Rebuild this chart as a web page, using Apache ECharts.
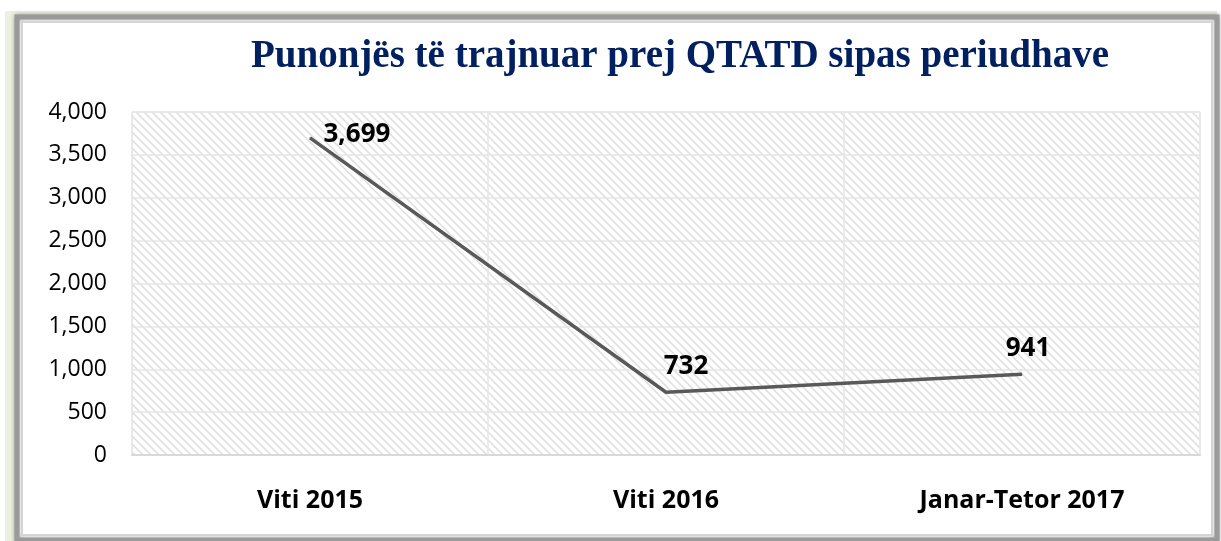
<!DOCTYPE html>
<html>
<head>
<meta charset="utf-8">
<script src="https://cdn.jsdelivr.net/npm/echarts@6/dist/echarts.min.js"></script>
<style>
  html, body { margin: 0; padding: 0; background: #fff; }
  #main { width: 1221px; height: 541px; }
</style>
</head>
<body>
<div id="main"></div>
<script>
var categories = ['Viti 2015', 'Viti 2016', 'Janar-Tetor 2017'];
var trained = [3699, 732, 941];
var yTicks = [0, 500, 1000, 1500, 2000, 2500, 3000, 3500, 4000];

// diagonal hatch for the plot background
var hatch = document.createElement('canvas');
hatch.width = 8;
hatch.height = 8;
var hc = hatch.getContext('2d');
hc.fillStyle = '#ffffff';
hc.fillRect(0, 0, 8, 8);
hc.strokeStyle = '#dedede';
hc.lineWidth = 1.5;
hc.beginPath();
hc.moveTo(-2, -2); hc.lineTo(10, 10);
hc.moveTo(-2, 6); hc.lineTo(2, 10);
hc.moveTo(6, -2); hc.lineTo(10, 2);
hc.stroke();

var myChart = echarts.init(document.getElementById('main'));

// label placement per point (left one sits to the right of the line)
var labelSpots = [
    { position: 'right', offset: [8, -3] },
    { position: 'top', offset: [20, -7] },
    { position: 'top', offset: [6, -7] }
];

var option = {
    backgroundColor: '#ffffff',
    animation: false,
    graphic: [
        { type: 'rect', shape: { x: 5, y: 11, width: 1212, height: 530 }, style: { fill: '#ecf1df' }, z: -10 },
        { type: 'rect', shape: { x: 17, y: 17, width: 1200, height: 523 }, style: { fill: '#ffffff', stroke: '#9a9a9a', lineWidth: 5, shadowBlur: 4, shadowColor: 'rgba(0,0,0,0.35)' }, z: -9 },
        { type: 'rect', shape: { x: 22, y: 22, width: 1190, height: 513 }, style: { fill: '#ffffff', stroke: '#d4d4d4', lineWidth: 2 }, z: -8 }
    ],
    title: {
        text: 'Punonjës të trajnuar prej QTATD sipas periudhave',
        left: 675,
        top: 32,
        textAlign: 'center',
        textStyle: {
            fontFamily: 'Liberation Serif',
            fontWeight: 'bold',
            fontSize: 39,
            color: '#002060'
        }
    },
    grid: {
        left: 132,
        right: 21,
        top: 112,
        bottom: 86,
        show: true,
        borderWidth: 1,
        borderColor: '#e4e4e4',
        backgroundColor: { image: hatch, repeat: 'repeat' }
    },
    xAxis: {
        type: 'category',
        data: categories,
        boundaryGap: true,
        axisLine: { show: true, lineStyle: { color: '#d9d9d9', width: 2 } },
        axisTick: { show: false },
        axisLabel: {
            interval: 0,
            margin: 33,
            fontFamily: 'Open Sans',
            fontWeight: 'bold',
            fontSize: 25,
            color: '#000'
        },
        splitLine: { show: true, interval: 0, lineStyle: { color: '#e6e6e6', width: 1.5 } }
    },
    yAxis: {
        type: 'value',
        min: yTicks[0],
        max: yTicks[yTicks.length - 1],
        interval: 500,
        axisLine: { show: false },
        axisTick: { show: false },
        axisLabel: {
            margin: 25,
            fontFamily: 'Open Sans',
            fontSize: 23,
            color: '#000',
            formatter: function (v) { return v.toLocaleString('en-US'); }
        },
        splitLine: { lineStyle: { color: '#e6e6e6', width: 1.5 } }
    },
    series: [{
        type: 'line',
        data: trained.map(function (v, i) {
            return { value: v, label: labelSpots[i] };
        }),
        showSymbol: true,
        symbol: 'circle',
        symbolSize: 1,
        itemStyle: { color: '#595959' },
        lineStyle: { color: '#595959', width: 3.5 },
        label: {
            show: true,
            fontFamily: 'Open Sans',
            fontWeight: 'bold',
            fontSize: 26,
            color: '#000',
            formatter: function (p) { return p.value.toLocaleString('en-US'); }
        }
    }]
};

myChart.setOption(option);
</script>
</body>
</html>
